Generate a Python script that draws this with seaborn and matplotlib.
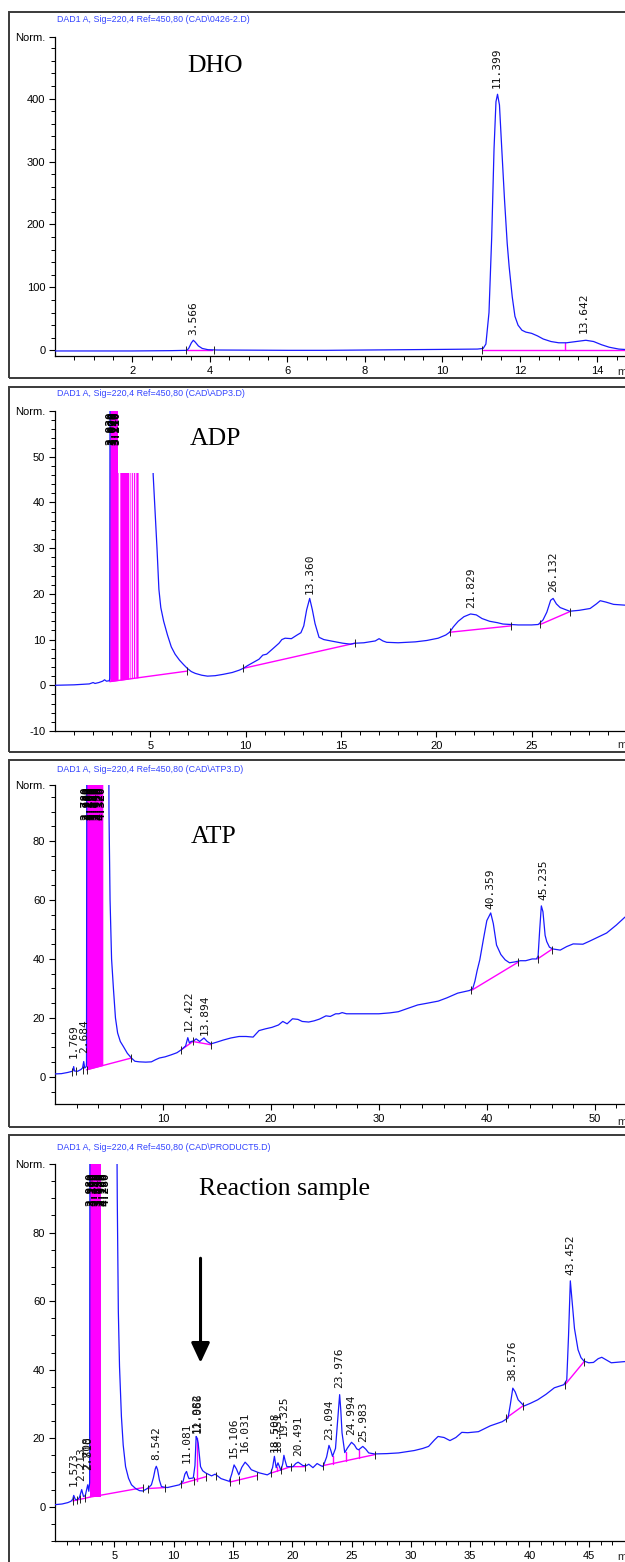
import numpy as np
import matplotlib
matplotlib.use("Agg")
import matplotlib.pyplot as plt
import seaborn as sns
from matplotlib.patches import Rectangle
from matplotlib import font_manager as fm

# ---------------- data ----------------
# DHO chromatogram (time min, signal)
dho_t = [0.0, 1.0, 2.0, 3.0, 3.40, 3.45, 3.52, 3.57, 3.62, 3.70, 3.80, 3.95, 4.2, 5.0, 6.0, 7.0, 8.0, 9.0, 10.0,
         10.9, 11.05, 11.12, 11.2, 11.27, 11.33, 11.38, 11.42, 11.47, 11.53, 11.6, 11.67, 11.72, 11.8, 11.87,
         11.95, 12.05, 12.15, 12.3, 12.45, 12.6, 12.8, 13.0, 13.2, 13.45, 13.7, 13.9, 14.1, 14.3, 14.55, 14.8, 15.0]
dho_y = [-1, -1, -1, -0.5, 0, 3, 12, 16, 13, 7, 3, 1, 0.5, 0.3, 0, 0, 0.5, 1, 1.5,
         2, 3, 10, 60, 180, 320, 395, 407, 390, 320, 240, 170, 133, 85, 54,
         40, 32, 29, 27, 23, 18, 14, 12, 12, 14, 16, 14, 9, 5, 2, 1, 1]
dho_base = [[(3.40, 0.5), (4.05, 0.5)], [(11.05, 1.0), (15.0, 1.0)]]
dho_marks_t = [3.38, 4.10, 11.02]
dho_marks_y = [0.5, 0.5, 1.0]
dho_drops = [(13.16, 1.0, 12.0)]
dho_labels = [(3.566, 24), (11.399, 417), (13.642, 28)]

# ADP chromatogram
adp_t = [0.0, 1.0, 1.8, 2.0, 2.1, 2.3, 2.5, 2.6, 2.7, 2.85, 2.87, 2.9, 5.0, 5.08, 5.15, 5.25, 5.35, 5.45, 5.55,
         5.7, 5.9, 6.1, 6.3, 6.53, 6.75, 6.94, 7.15, 7.36, 7.7, 8.0, 8.4, 8.83, 9.3, 9.66, 9.87, 10.1, 10.4,
         10.7, 10.9, 11.1, 11.4, 11.75, 11.9, 12.07, 12.4, 12.7, 12.9, 13.05, 13.2, 13.36, 13.5, 13.64, 13.85,
         14.1, 14.47, 15.1, 15.5, 15.73, 16.2, 16.8, 17.0, 17.2, 17.4, 18.0, 18.9, 19.5, 20.1, 20.5, 20.7,
         20.9, 21.15, 21.45, 21.8, 22.1, 22.4, 22.8, 23.2, 23.5, 24.3, 25.0, 25.35, 25.6, 25.8, 26.0, 26.13,
         26.3, 26.5, 27.0, 27.5, 28.07, 28.4, 28.6, 28.9, 29.3, 30.0]
adp_y = [0.0, 0.1, 0.3, 0.6, 0.4, 0.6, 0.9, 1.2, 0.9, 1.0, 1.5, 120, 120, 60, 46, 38, 30, 21, 17,
         14, 11, 8.4, 6.8, 5.5, 4.5, 3.7, 3.0, 2.6, 2.2, 2.0, 2.1, 2.4, 2.8, 3.3, 3.7, 4.3, 5.0,
         5.7, 6.6, 6.8, 7.9, 9.2, 10.0, 10.3, 10.2, 11.0, 11.5, 13.0, 16.5, 19.0, 16.5, 13.5, 10.5,
         10.0, 9.7, 9.2, 9.0, 9.2, 9.3, 9.7, 10.2, 9.7, 9.4, 9.3, 9.5, 9.8, 10.3, 11.0, 11.6,
         12.8, 14.0, 15.0, 15.6, 15.4, 14.6, 14.0, 13.7, 13.4, 13.2, 13.2, 13.3, 14.3, 16.0, 18.6, 19.0,
         17.8, 17.0, 16.2, 16.4, 16.8, 17.8, 18.5, 18.2, 17.7, 17.5]
adp_base = [[(2.87, 0.8), (6.93, 3.1)], [(9.87, 3.7), (15.73, 9.2)],
            [(20.7, 11.6), (23.93, 13.0)], [(25.45, 13.3), (27.0, 16.1)]]
adp_marks_t = [6.93, 9.87, 15.73, 20.7, 23.93, 25.45, 27.0]
adp_marks_y = [3.1, 3.7, 9.2, 11.6, 13.0, 13.3, 16.1]
adp_drops = []
adp_labels = [(13.360, 20.0), (21.829, 17.0), (26.132, 20.5)]
adp_front = [(2.87, 3.31), (3.40, 3.87), (3.93, 3.97), (4.02, 4.07), (4.12, 4.18), (4.24, 4.36)]
adp_front_labels = [2.93, 3.00, 3.07, 3.14, 3.21]
adp_front_label_y = 52.6

# ATP chromatogram
atp_t = [0.0, 0.6, 1.18, 1.5, 1.65, 1.73, 1.8, 2.1, 2.4, 2.55, 2.66, 2.75, 2.9, 2.92, 2.95, 4.95, 5.0, 5.1,
         5.24, 5.42, 5.6, 5.8, 6.05, 6.35, 6.7, 7.08, 7.4, 7.82, 8.4, 8.93, 9.3, 9.67, 10.2, 10.78, 11.3,
         11.7, 12.1, 12.3, 12.45, 12.6, 12.85, 13.07, 13.4, 13.8, 14.1, 14.45, 15.0, 15.6, 16.3, 17.05,
         17.7, 18.35, 18.9, 19.5, 20.1, 20.7, 21.1, 21.5, 22.0, 22.5, 22.9, 23.5, 24.0, 24.5, 25.1, 25.5,
         26.0, 26.3, 26.6, 27.0, 28.1, 30.0, 31.0, 31.8, 32.5, 33.6, 34.5, 35.5, 36.3, 37.3, 38.4, 38.7,
         38.9, 39.1, 39.35, 39.7, 40.0, 40.36, 40.6, 40.9, 41.3, 41.7, 42.1, 42.6, 43.1, 43.6, 44.2, 44.6,
         44.75, 44.9, 45.05, 45.2, 45.4, 45.55, 45.8, 46.1, 46.8, 47.4, 48.0, 48.9, 49.5, 50.3, 51.1, 52.0, 52.8]
atp_y = [1.0, 1.1, 1.5, 1.8, 2.0, 3.5, 2.0, 1.9, 2.5, 3.0, 5.2, 3.0, 3.5, 5.0, 150, 150, 90, 60,
         40, 29.5, 20, 14.9, 12, 10.2, 8.0, 6.4, 5.3, 5.1, 5.0, 5.1, 5.8, 6.4, 6.8, 7.5, 8.2,
         9.2, 10.5, 13.3, 11.5, 12.0, 12.2, 12.9, 12.0, 13.2, 12.0, 11.2, 11.8, 12.5, 13.2, 13.7,
         13.7, 13.5, 15.7, 16.3, 16.8, 17.6, 18.8, 18.0, 19.7, 19.5, 18.8, 18.6, 19.0, 19.6, 20.7, 20.5,
         21.4, 21.4, 21.8, 21.4, 21.4, 21.4, 21.7, 22.1, 23.0, 24.4, 25.0, 25.7, 26.8, 28.4, 29.3, 30.0,
         32.5, 36.0, 39.7, 47.0, 53.0, 55.6, 52.0, 44.7, 41.5, 39.7, 38.7, 39.0, 39.4, 39.4, 40.0, 40.0,
         41.0, 50.0, 58.0, 56.0, 48.0, 45.9, 44.0, 43.4, 43.0, 44.2, 45.1, 45.0, 46.0, 47.4, 48.8, 51.5, 54.2]
atp_base = [[(2.92, 2.4), (7.08, 6.4)], [(11.7, 9.2), (12.78, 12.0), (14.45, 10.9)],
            [(38.56, 29.3), (42.9, 38.9)], [(44.7, 40.0), (46.0, 43.2)]]
atp_marks_t = [1.6, 1.95, 2.62, 2.92, 7.08, 11.7, 12.78, 14.45, 38.56, 42.9, 44.7, 46.0]
atp_marks_y = [1.8, 2.0, 2.4, 2.4, 6.4, 9.2, 12.0, 10.9, 29.3, 38.9, 40.0, 43.2]
atp_drops = []
atp_labels = [(1.769, 6.4), (2.684, 8.1), (12.422, 15.6), (13.894, 14.2), (40.359, 57.0), (45.235, 60.0)]
atp_front = [(2.92, 4.43)]
atp_front_labels = [2.78, 2.98, 3.16, 3.35, 3.55, 3.74, 3.93, 4.12, 4.32]
atp_front_label_y = 87.2

# Reaction sample chromatogram
rxn_t = [0.0, 0.6, 1.08, 1.35, 1.5, 1.58, 1.7, 1.85, 2.05, 2.25, 2.4, 2.55, 2.7, 2.76, 2.85, 2.92, 2.95,
         5.15, 5.25, 5.3, 5.34, 5.44, 5.6, 5.75, 5.95, 6.2, 6.45, 6.8, 7.12, 7.4, 7.63, 7.9, 8.13, 8.3, 8.45,
         8.54, 8.65, 8.8, 8.97, 9.2, 9.48, 10.0, 10.49, 10.8, 10.95, 11.09, 11.2, 11.3, 11.66, 11.8, 11.9,
         11.98, 12.07, 12.17, 12.27, 12.45, 12.68, 13.2, 13.5, 13.7, 14.0, 14.7, 14.9, 15.1, 15.3, 15.5,
         15.75, 16.03, 16.3, 16.55, 17.2, 17.9, 18.2, 18.35, 18.5, 18.6, 18.65, 18.8, 19.05, 19.2, 19.3,
         19.4, 19.55, 20.07, 20.3, 20.5, 20.9, 21.2, 21.4, 21.75, 22.1, 22.4, 22.6, 22.9, 23.1, 23.25, 23.4,
         23.65, 23.85, 24.0, 24.1, 24.2, 24.43, 24.67, 25.0, 25.25, 25.44, 25.6, 25.95, 26.2, 26.45, 26.95,
         28.0, 28.97, 30.3, 31.0, 31.5, 32.0, 32.3, 32.8, 33.3, 33.8, 34.3, 34.8, 35.7, 36.7, 37.7, 38.2,
         38.4, 38.6, 38.8, 39.05, 39.55, 40.1, 40.7, 41.4, 42.1, 42.9, 43.15, 43.3, 43.45, 43.6, 43.8, 44.1,
         44.35, 44.6, 45.0, 45.4, 45.8, 46.1, 46.5, 46.9, 47.5, 48.2]
rxn_y = [0.6, 0.8, 1.2, 1.6, 2.2, 3.3, 2.2, 2.0, 2.6, 5.0, 3.0, 3.2, 5.5, 6.4, 4.5, 7.0, 150,
         150, 90, 70, 57, 40.9, 26.3, 18.0, 11.7, 8.3, 6.4, 5.3, 4.7, 4.6, 5.0, 5.6, 6.4, 8.5, 11.0,
         11.8, 10.8, 7.8, 5.9, 5.7, 5.6, 6.0, 6.4, 7.4, 9.5, 10.3, 9.0, 8.2, 8.4, 12.0, 20.5,
         20.0, 18.6, 15.0, 11.7, 10.5, 9.9, 9.0, 9.5, 9.0, 8.2, 7.4, 9.5, 12.2, 11.0, 9.3,
         11.5, 13.0, 12.0, 10.8, 9.9, 9.3, 9.9, 11.5, 14.7, 12.5, 11.4, 12.8, 10.6, 12.5, 15.0,
         13.5, 11.7, 11.7, 12.6, 13.0, 12.0, 12.0, 12.4, 11.4, 12.6, 12.0, 11.7, 14.5, 17.9, 16.5, 14.7,
         17.0, 26.0, 32.7, 28.0, 21.6, 15.8, 17.2, 18.8, 18.0, 16.9, 16.6, 17.6, 16.8, 15.7, 15.4,
         15.5, 15.7, 16.4, 17.0, 17.6, 19.5, 20.5, 20.2, 19.3, 20.2, 21.7, 21.6, 21.9, 23.6, 24.8, 25.9,
         30.0, 34.6, 33.5, 31.2, 29.4, 30.2, 31.2, 32.8, 34.7, 35.6, 37.0, 50.0, 65.9, 60.0, 52.0, 45.8,
         43.5, 42.5, 42.0, 42.1, 43.2, 43.6, 42.8, 42.0, 42.2, 42.4]
rxn_base = [[(1.5, 1.7), (2.95, 2.8)], [(2.95, 2.8), (7.46, 5.6)], [(7.8, 5.3), (9.3, 5.6)],
            [(10.65, 6.7), (12.77, 8.8)], [(14.75, 7.2), (17.05, 9.1)],
            [(18.2, 9.8), (19.9, 11.7), (21.1, 11.7)], [(22.6, 12.0), (26.95, 15.2)],
            [(38.05, 25.9), (39.45, 29.4)], [(43.0, 35.6), (44.6, 42.3)]]
rxn_marks_t = [1.5, 1.85, 2.1, 2.5, 7.46, 7.8, 9.3, 10.65, 11.7, 12.77, 13.6, 14.75, 15.5, 17.05, 18.2,
               19.05, 19.9, 21.1, 22.6, 26.95, 38.05, 39.45, 43.0, 44.6]
rxn_marks_y = [1.7, 2.0, 2.2, 2.6, 5.6, 5.3, 5.6, 6.7, 7.5, 8.8, 9.0, 7.2, 7.7, 9.1, 9.8,
               10.6, 11.7, 11.7, 12.0, 15.2, 25.9, 29.4, 35.6, 42.3]
rxn_drops = [(11.97, 7.6, 20.0), (18.68, 10.3, 11.6), (23.4, 12.6, 14.7), (24.5, 13.4, 16.0), (25.6, 14.3, 16.6)]
rxn_labels = [(1.573, 6.1), (2.213, 7.5), (2.708, 10.8), (2.810, 10.8), (8.542, 13.7), (11.081, 12.8),
              (11.982, 21.6), (12.066, 21.6), (15.106, 14.3), (16.031, 16.0), (18.508, 16.0), (18.751, 16.0),
              (19.325, 20.5), (20.491, 14.7), (23.094, 19.5), (23.976, 34.7), (24.994, 21.0), (25.983, 19.0),
              (38.576, 36.7), (43.452, 67.6)]
rxn_front = [(2.95, 3.92), (4.12, 4.16)]
rxn_front_labels = [2.98, 3.16, 3.35, 3.54, 3.73, 3.92, 4.10, 4.28]
rxn_front_label_y = 87.6

titles = ["DAD1 A, Sig=220,4 Ref=450,80 (CAD\\0426-2.D)",
          "DAD1 A, Sig=220,4 Ref=450,80 (CAD\\ADP3.D)",
          "DAD1 A, Sig=220,4 Ref=450,80 (CAD\\ATP3.D)",
          "DAD1 A, Sig=220,4 Ref=450,80 (CAD\\PRODUCT5.D)"]
samples = ["DHO", "ADP", "ATP", "Reaction sample"]

# ---------------- style ----------------
sns.set_theme(style="ticks")
avail = {f.name for f in fm.fontManager.ttflist}
NARROW = 'Liberation Sans Narrow' if 'Liberation Sans Narrow' in avail else 'Liberation Sans'
MONO = 'DejaVu Sans Mono'
plt.rcParams['font.family'] = [NARROW, 'DejaVu Sans']
BLUE = '#1a1aff'
MAG = '#ff00ff'

W, H = 625, 1562
fig = plt.figure(figsize=(W / 100, H / 100), dpi=100)


def fx(x):
    return x / W


def fy(y):
    return 1 - y / H


panels = [
    dict(frame=(12, 378), atop=37, abot=356, xlim=(0, 14.71), ylim=(-9, 498),
         xmaj=np.arange(2, 15, 2), xmin=np.arange(0.5, 15, 0.5),
         ymaj=[0, 100, 200, 300, 400], ymin=np.arange(-0, 490, 20),
         title_y=20, sample=(187, 72), t=dho_t, y=dho_y, base=dho_base,
         mt=dho_marks_t, my=dho_marks_y, drops=dho_drops, labels=dho_labels,
         front=None, tick_y=372),
    dict(frame=(387, 752), atop=411, abot=731, xlim=(0, 29.9), ylim=(-10, 60),
         xmaj=np.arange(5, 30, 5), xmin=np.arange(1, 30, 1),
         ymaj=[-10, 0, 10, 20, 30, 40, 50], ymin=np.arange(-10, 60, 2),
         title_y=394, sample=(190, 445), t=adp_t, y=adp_y, base=adp_base,
         mt=adp_marks_t, my=adp_marks_y, drops=adp_drops, labels=adp_labels,
         front=(adp_front, adp_front_labels, adp_front_label_y), tick_y=745),
    dict(frame=(760, 1127), atop=785, abot=1104, xlim=(0, 52.8), ylim=(-9.2, 99),
         xmaj=np.arange(10, 53, 10), xmin=np.arange(2, 53, 2),
         ymaj=[0, 20, 40, 60, 80], ymin=np.arange(-5, 99, 5),
         title_y=770, sample=(191, 843), t=atp_t, y=atp_y, base=atp_base,
         mt=atp_marks_t, my=atp_marks_y, drops=atp_drops, labels=atp_labels,
         front=(atp_front, atp_front_labels, atp_front_label_y), tick_y=1122),
    dict(frame=(1135, 1600), atop=1164, abot=1541, xlim=(0, 48.06), ylim=(-10, 100),
         xmaj=np.arange(5, 48, 5), xmin=np.arange(1, 48, 1),
         ymaj=[0, 20, 40, 60, 80], ymin=np.arange(-10, 100, 5),
         title_y=1147, sample=(199, 1195), t=rxn_t, y=rxn_y, base=rxn_base,
         mt=rxn_marks_t, my=rxn_marks_y, drops=rxn_drops, labels=rxn_labels,
         front=(rxn_front, rxn_front_labels, rxn_front_label_y), tick_y=1557),
]

axes = []
for i, p in enumerate(panels):
    # outer frame of each printed panel
    ftop, fbot = p['frame']
    fig.patches.append(Rectangle((fx(9), fy(fbot)), fx(700), (fbot - ftop) / H,
                                 transform=fig.transFigure, fill=False,
                                 edgecolor='#3a3a3a', lw=1.4, zorder=0))
    ax = fig.add_axes([fx(55), fy(p['abot']), fx(625 - 55), (p['abot'] - p['atop']) / H])
    ax.set_facecolor('none')
    axes.append(ax)

    # solvent-front integration fill (magenta)
    if p['front'] is not None:
        segs, ftimes, fy_lab = p['front']
        bx = [q[0] for q in p['base'][0]]
        by = [q[1] for q in p['base'][0]]
        for a, b in segs:
            xs = [a, b]
            ys = np.interp(xs, bx, by)
            ax.fill_between(xs, ys, [p['ylim'][1] + 5] * 2, color=MAG, lw=0, zorder=2)
        for ft in ftimes:
            ax.text(ft, fy_lab, f"{ft:.3f}", rotation=90, ha='center', va='bottom',
                    fontsize=8, family=MONO, color='black', clip_on=True, zorder=6,
                    fontweight='bold')

    # baselines
    for seg in p['base']:
        ax.plot([q[0] for q in seg], [q[1] for q in seg], color=MAG, lw=1.0, zorder=3)
    for t0, y0, y1 in p['drops']:
        ax.plot([t0, t0], [y0, y1], color=MAG, lw=1.0, zorder=3)

    # chromatogram trace
    sns.lineplot(x=p['t'], y=p['y'], ax=ax, color=BLUE, linewidth=0.9,
                 sort=False, estimator=None, zorder=4)

    # integration marks
    ax.plot(p['mt'], p['my'], ls='none', marker='|', ms=6, mew=0.7, color='#222222', zorder=5)

    # peak labels
    for rt, yb in p['labels']:
        ax.text(rt, yb, f"{rt:.3f}", rotation=90, ha='center', va='bottom',
                fontsize=8, family=MONO, color='#111111', clip_on=False, zorder=6)

    ax.set_xlim(*p['xlim'])
    ax.set_ylim(*p['ylim'])
    ax.set_xticks(p['xmaj'])
    ax.set_xticklabels([f"{v:g}" for v in p['xmaj']])
    ax.set_xticks(p['xmin'], minor=True)
    ymaj = list(p['ymaj']) + [p['ylim'][1]]
    ax.set_yticks(ymaj)
    ax.set_yticklabels([f"{v:g}" for v in p['ymaj']] + ['Norm.'])
    ax.set_yticks(p['ymin'], minor=True)
    sns.despine(ax=ax, top=True, right=True)
    for s in ['left', 'bottom']:
        ax.spines[s].set_linewidth(0.9)
        ax.spines[s].set_color('black')
    ax.tick_params(axis='both', which='major', direction='out', length=4, width=0.8,
                   labelsize=8, pad=3, colors='black')
    ax.tick_params(axis='both', which='minor', direction='out', length=3, width=0.7, colors='black')
    ax.set_xlabel('')
    ax.set_ylabel('')
    ax.grid(False)

    # header and sample name
    fig.text(fx(57), fy(p['title_y']), titles[i], color='#3344ff', fontsize=6.4,
             ha='left', va='center')
    sx, sy = p['sample']
    fig.text(fx(sx), fy(sy), samples[i], family='Liberation Serif', fontsize=18.5,
             ha='left', va='baseline', color='black')
    fig.text(fx(617), fy(p['tick_y']), 'min', fontsize=8, ha='left', va='center')

# white box hiding the off-scale part of the ADP trace
axes[1].add_patch(Rectangle((3.32, 46.5), 10.0, 20.0, facecolor='white', edgecolor='none', zorder=5))

# arrow in reaction sample panel
axes[3].annotate('', xy=(12.27, 42.0), xytext=(12.27, 72.5),
                 arrowprops=dict(arrowstyle='-|>,head_width=0.28,head_length=0.6',
                                 color='black', lw=2.2, mutation_scale=20, shrinkA=0, shrinkB=0),
                 zorder=7)

fig.savefig('out.png', dpi=100)
